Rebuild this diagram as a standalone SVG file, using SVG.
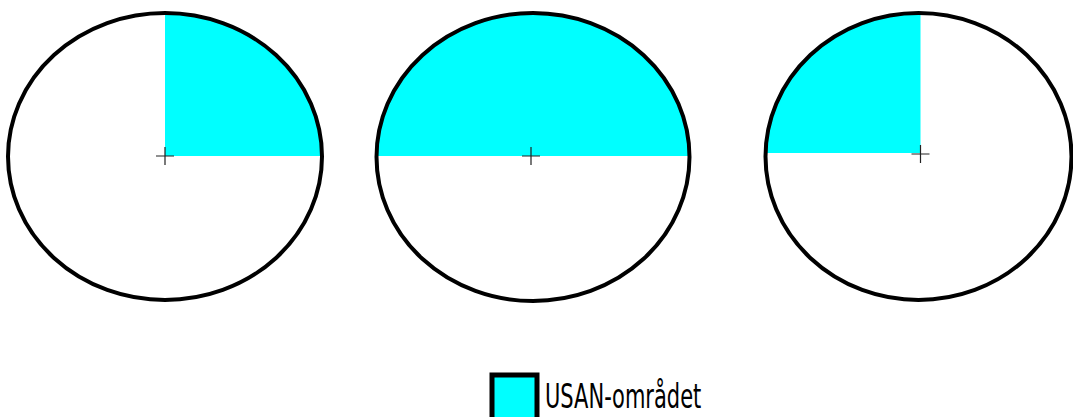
<svg xmlns="http://www.w3.org/2000/svg" width="1073" height="417" viewBox="0 0 1073 417">
  <style>
    .ring { fill: none; stroke: #000; stroke-width: 4; }
    .area { fill: #00ffff; stroke: none; }
    .cross { stroke: #222; stroke-width: 1.2; fill: none; }
    .label { font-family: "DejaVu Sans", "Liberation Sans", sans-serif; font-size: 21px; fill: #000; }
  </style>
  <rect width="1073" height="417" fill="#fff"/>
  <g id="circle1">
    <path class="area" d="M165,156 V13 A157,143.5 0 0 1 322,156 Z"/>
    <ellipse class="ring" cx="165" cy="156.5" rx="157" ry="143.5"/>
    <path class="cross" d="M156,156 H174 M165,147 V165"/>
  </g>
  <g id="circle2">
    <path class="area" d="M376.5,156 A156.5,143 0 0 1 689.5,156 Z"/>
    <ellipse class="ring" cx="533" cy="157" rx="156.5" ry="144"/>
    <path class="cross" d="M522,156 H540 M531,147 V165"/>
  </g>
  <g id="circle3">
    <path class="area" d="M765.5,153 A155,140 0 0 1 920.5,13 V153 Z"/>
    <ellipse class="ring" cx="918.5" cy="156.5" rx="153" ry="143.5"/>
    <path class="cross" d="M911.5,154 H929.5 M920.5,145 V163"/>
  </g>
  <g id="legend">
    <rect x="492" y="375" width="45" height="50" fill="#00ffff" stroke="#000" stroke-width="5"/>
    <text class="label" transform="translate(545,408) scale(1,1.6)" x="0" y="0">USAN-området</text>
  </g>
</svg>
